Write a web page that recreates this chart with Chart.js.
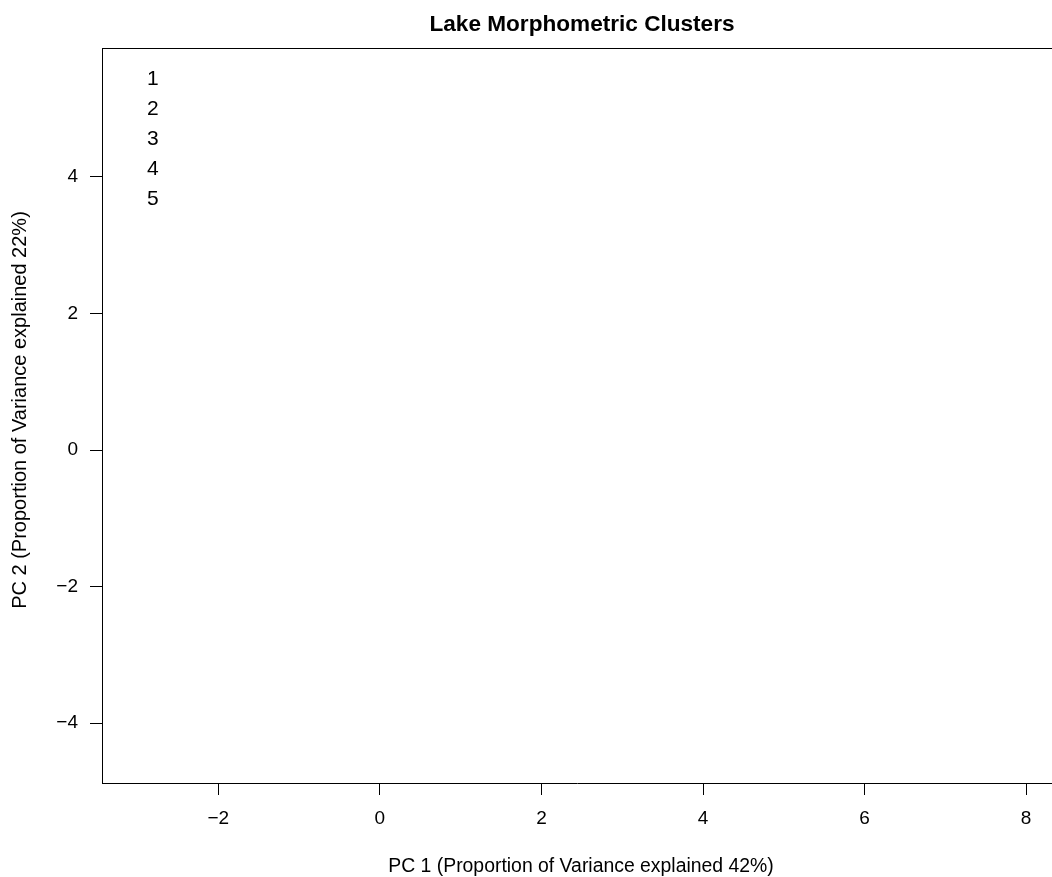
<!DOCTYPE html>
<html>
<head>
<meta charset="utf-8">
<script src="https://cdn.jsdelivr.net/npm/chart.js@4"></script>
<style>
  html, body { margin: 0; padding: 0; background: #fff; }
  #wrap { width: 1052px; height: 877px; }
</style>
</head>
<body>
<div id="wrap"><canvas id="c" width="1052" height="877"></canvas></div>
<script>
// cluster names shown in the legend (no points are visible in the plot)
const clusters = ['1', '2', '3', '4', '5'];
const clusterPoints = [[], [], [], [], []];
const xTicks = [-2, 0, 2, 4, 6, 8];
const yTicks = [-4, -2, 0, 2, 4];
const xRange = [-3.44, 8.32];
const yRange = [-4.875, 5.886];

const titleText = 'Lake Morphometric Clusters';
const xTitle = 'PC 1 (Proportion of Variance explained 42%)';
const yTitle = 'PC 2 (Proportion of Variance explained 22%)';

const FONT = '"Liberation Sans", Arial, sans-serif';

const minus = v => String(v).replace('-', '\u2212');

// draws title, axis titles, top frame line and the text-only legend
const rDecor = {
    id: 'rDecor',
    afterDraw(chart) {
        const ctx = chart.ctx;
        const a = chart.chartArea;
        ctx.save();
        ctx.strokeStyle = '#000';
        ctx.lineWidth = 1;
        ctx.beginPath();
        ctx.moveTo(a.left, a.top + 0.5);
        ctx.lineTo(a.right, a.top + 0.5);
        ctx.stroke();

        ctx.fillStyle = '#000';
        ctx.textAlign = 'center';
        ctx.textBaseline = 'middle';
        ctx.font = 'bold 22.6px ' + FONT;
        ctx.fillText(titleText, 582, 25);

        ctx.font = '19.4px ' + FONT;
        ctx.fillText(xTitle, 581, 867);

        ctx.save();
        ctx.font = '20px ' + FONT;
        ctx.translate(20, 410);
        ctx.rotate(-Math.PI / 2);
        ctx.fillText(yTitle, 0, 0);
        ctx.restore();

        ctx.textAlign = 'left';
        ctx.font = '21px ' + FONT;
        chart.data.datasets.forEach((ds, i) => {
            ctx.fillText(ds.label, 147, 79 + i * 30);
        });
        ctx.restore();
    }
};

new Chart(document.getElementById('c'), {
    type: 'scatter',
    data: {
        datasets: clusters.map((name, i) => ({
            label: name,
            data: clusterPoints[i],
            pointRadius: 4,
            backgroundColor: '#000'
        }))
    },
    options: {
        responsive: false,
        animation: false,
        layout: { padding: { top: 48, left: 0, right: 0, bottom: 0 } },
        plugins: {
            legend: { display: false },
            title: { display: false },
            tooltip: { enabled: false }
        },
        scales: {
            x: {
                type: 'linear',
                min: xRange[0],
                max: xRange[1],
                afterBuildTicks: s => { s.ticks = xTicks.map(v => ({ value: v })); },
                afterFit: s => { s.height = 94; },
                grid: { drawOnChartArea: false, drawTicks: true, tickLength: 12, color: '#000' },
                border: { display: true, color: '#000', width: 1 },
                ticks: {
                    color: '#000',
                    padding: 12,
                    maxRotation: 0,
                    font: { family: FONT, size: 19 },
                    callback: minus
                }
            },
            y: {
                type: 'linear',
                min: yRange[0],
                max: yRange[1],
                afterBuildTicks: s => { s.ticks = yTicks.map(v => ({ value: v })); },
                afterFit: s => { s.width = 102; },
                grid: { drawOnChartArea: false, drawTicks: true, tickLength: 12, color: '#000' },
                border: { display: true, color: '#000', width: 1 },
                ticks: {
                    color: '#000',
                    padding: 12,
                    font: { family: FONT, size: 19 },
                    callback: minus
                }
            }
        }
    },
    plugins: [rDecor]
});
</script>
</body>
</html>
